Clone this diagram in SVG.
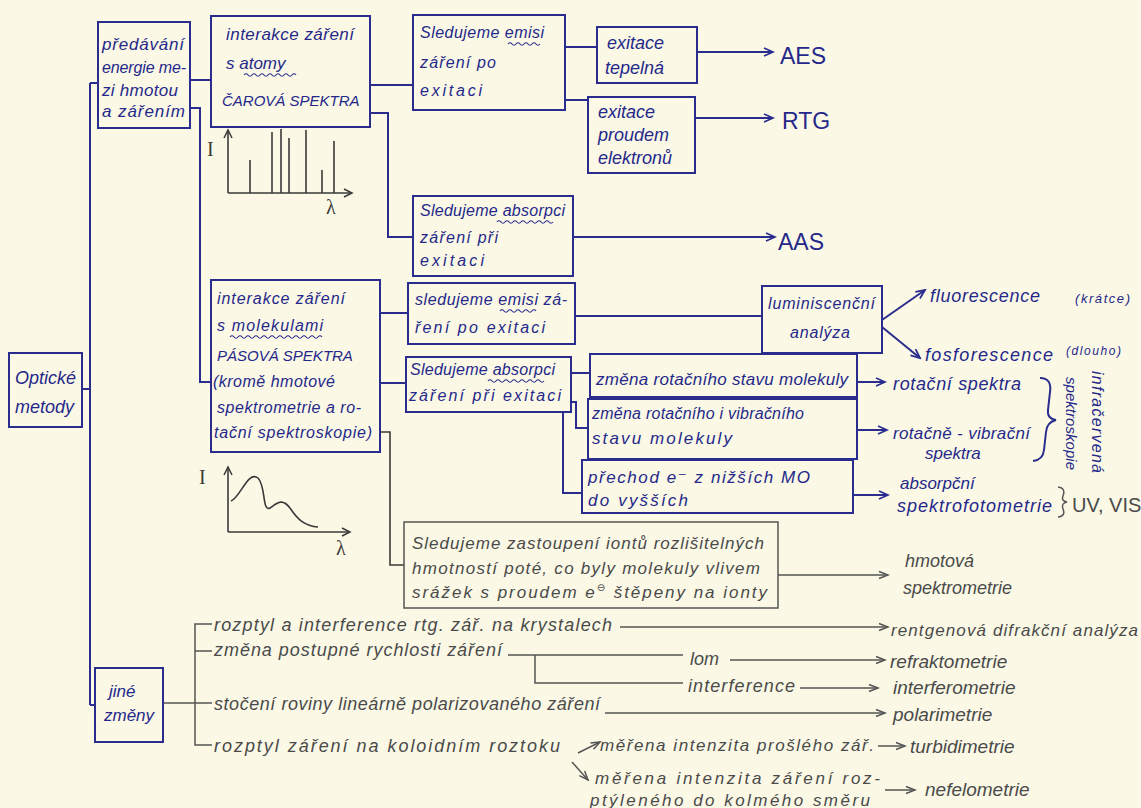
<svg xmlns="http://www.w3.org/2000/svg" width="1141" height="808" viewBox="0 0 1141 808">
<defs>
<style>
.b{fill:none;stroke:#2b2d8e;stroke-width:2}
.g{fill:none;stroke:#555;stroke-width:1.5}
.k{fill:none;stroke:#3a3a3a;stroke-width:1.6}
.w{fill:none;stroke:#2b2d8e;stroke-width:1.2}
.tb{font-family:"Liberation Sans","DejaVu Sans",sans-serif;fill:#25288a}
.tg{font-family:"Liberation Sans","DejaVu Sans",sans-serif;fill:#4a4a4a}
.ts{font-family:"Liberation Serif","DejaVu Serif",serif;fill:#3a3a3a}
</style>
<marker id="ab" markerWidth="12" markerHeight="12" refX="10" refY="5" orient="auto" markerUnits="userSpaceOnUse"><path d="M1,1 L10,5 L1,9" fill="none" stroke="#2b2d8e" stroke-width="1.8"/></marker>
<marker id="ag" markerWidth="12" markerHeight="12" refX="10" refY="5" orient="auto" markerUnits="userSpaceOnUse"><path d="M1,1.5 L10,5 L1,8.5" fill="none" stroke="#555" stroke-width="1.5"/></marker>
<marker id="ak" markerWidth="12" markerHeight="12" refX="9" refY="5" orient="auto" markerUnits="userSpaceOnUse"><path d="M1,1 L9,5 L1,9" fill="none" stroke="#3a3a3a" stroke-width="1.5"/></marker>
</defs>
<rect x="0" y="0" width="1141" height="808" fill="#fbf9e6"/>

<g id="connectors">
<path class="b" d="M82,389 H90"/>
<path class="b" d="M90,83 V705"/>
<path class="b" d="M90,83 H98"/>
<path class="b" d="M90,705 H95"/>
<path class="b" d="M190,80 H211"/>
<path class="b" d="M190,108 H200 V382 H211"/>
<path class="b" d="M370,85 H413"/>
<path class="b" d="M370,113 H388 V237 H413"/>
<path class="b" d="M565,47 H597"/>
<path class="b" d="M565,100 H588"/>
<path class="b" d="M697,52 H773" marker-end="url(#ab)"/>
<path class="b" d="M695,118 H773" marker-end="url(#ab)"/>
<path class="b" d="M573,237 H775" marker-end="url(#ab)"/>
<path class="b" d="M380,313 H408"/>
<path class="b" d="M380,383 H406"/>
<path class="k" d="M380,432 H390 V565 H404"/>
<path class="b" d="M575,316 H762"/>
<path class="b" d="M882,320 L925,290" marker-end="url(#ab)"/>
<path class="b" d="M882,327 L920,358" marker-end="url(#ab)"/>
<path class="b" d="M571,373 H590"/>
<path class="b" d="M571,402 H576 V428 H588"/>
<path class="b" d="M563,412 V493 H582"/>
<path class="b" d="M857,382 H885" marker-end="url(#ab)"/>
<path class="b" d="M857,430 H887" marker-end="url(#ab)"/>
<path class="b" d="M853,495 H888" marker-end="url(#ab)"/>
<path class="g" d="M778,575 H888" marker-end="url(#ag)"/>
<path class="g" d="M163,703 H212"/>
<path class="g" d="M212,624 H195 V745 H212"/>
<path class="g" d="M195,651 H212"/>
<path class="g" d="M620,627 H888" marker-end="url(#ag)"/>
<path class="g" d="M508,655 H683"/>
<path class="g" d="M535,655 V683 H683"/>
<path class="g" d="M730,660 H885" marker-end="url(#ag)"/>
<path class="g" d="M800,688 H878" marker-end="url(#ag)"/>
<path class="g" d="M605,713 H885" marker-end="url(#ag)"/>
<path class="g" d="M578,753 L600,742" marker-end="url(#ag)"/>
<path class="g" d="M572,762 L588,780" marker-end="url(#ag)"/>
<path class="g" d="M878,746 H905" marker-end="url(#ag)"/>
<path class="g" d="M885,790 H915" marker-end="url(#ag)"/>
</g>

<g id="n-opticke">
<rect class="b" x="9" y="353" width="73" height="74"/>
<text class="tb" font-style="italic" font-size="18" x="15" y="384">Optické</text>
<text class="tb" font-style="italic" font-size="18" x="15" y="413">metody</text>
</g>

<g id="n-predavani">
<rect class="b" x="98" y="22" width="92" height="106"/>
<text class="tb" font-style="italic" font-size="17" x="102" y="50" textLength="82" lengthAdjust="spacing">předávání</text>
<text class="tb" font-style="italic" font-size="16" x="102" y="73" textLength="84" lengthAdjust="spacing">energie me-</text>
<text class="tb" font-style="italic" font-size="17" x="102" y="96" textLength="76" lengthAdjust="spacing">zi hmotou</text>
<text class="tb" font-style="italic" font-size="17" x="102" y="117" textLength="83" lengthAdjust="spacing">a zářením</text>
</g>

<g id="n-atomy">
<rect class="b" x="211" y="16" width="159" height="111"/>
<text class="tb" font-style="italic" font-size="17" x="226" y="40" textLength="128" lengthAdjust="spacing">interakce záření</text>
<text class="tb" font-style="italic" font-size="17" x="226" y="69">s atomy</text>
<path class="w" d="M244,75 q2,-2.5 4,0 t4,0 t4,0 t4,0 t4,0 t4,0 t4,0 t4,0 t4,0 t4,0 t4,0 t4,0 t4,0"/>
<text class="tb" font-style="italic" font-size="15" x="222" y="106">ČAROVÁ SPEKTRA</text>
</g>

<g id="chart-lines">
<path class="k" d="M228,193 V130" marker-end="url(#ak)"/>
<path class="k" d="M228,193 H352" marker-end="url(#ak)"/>
<path class="k" d="M250,193 V160 M272,193 V132 M281,193 V129 M289,193 V138 M306,193 V130 M322,193 V170 M334,193 V141"/>
<text class="ts" font-size="20" x="207" y="156">I</text>
<text class="ts" font-size="20" x="326" y="214">λ</text>
</g>

<g id="n-emise1">
<rect class="b" x="413" y="15" width="152" height="95"/>
<text class="tb" font-style="italic" font-size="16" x="420" y="38" textLength="124" lengthAdjust="spacing">Sledujeme emisi</text>
<path class="w" d="M508,44 q2,-2.5 4,0 t4,0 t4,0 t4,0 t4,0 t4,0 t4,0 t4,0"/>
<text class="tb" font-style="italic" font-size="16" x="420" y="68" textLength="76" lengthAdjust="spacing">záření po</text>
<text class="tb" font-style="italic" font-size="16" x="420" y="96" textLength="62" lengthAdjust="spacing">exitaci</text>
</g>

<g id="n-tepelna">
<rect class="b" x="597" y="27" width="100" height="56"/>
<text class="tb" font-style="italic" font-size="18" x="607" y="49">exitace</text>
<text class="tb" font-style="italic" font-size="18" x="605" y="74">tepelná</text>
</g>

<g id="n-proudem">
<rect class="b" x="588" y="97" width="107" height="76"/>
<text class="tb" font-style="italic" font-size="18" x="598" y="118">exitace</text>
<text class="tb" font-style="italic" font-size="18" x="598" y="141">proudem</text>
<text class="tb" font-style="italic" font-size="18" x="598" y="164">elektronů</text>
</g>

<g id="n-aes"><text class="tb" font-size="23" x="780" y="64">AES</text></g>
<g id="n-rtg"><text class="tb" font-size="23" x="782" y="129">RTG</text></g>
<g id="n-aas"><text class="tb" font-size="23" x="778" y="250">AAS</text></g>

<g id="n-absorpce1">
<rect class="b" x="413" y="196" width="160" height="80"/>
<text class="tb" font-style="italic" font-size="16" x="420" y="216" textLength="145" lengthAdjust="spacing">Sledujeme absorpci</text>
<path class="w" d="M497,222 q2,-2.5 4,0 t4,0 t4,0 t4,0 t4,0 t4,0 t4,0 t4,0 t4,0 t4,0 t4,0 t4,0 t4,0 t4,0"/>
<text class="tb" font-style="italic" font-size="16" x="420" y="243" textLength="78" lengthAdjust="spacing">záření při</text>
<text class="tb" font-style="italic" font-size="16" x="420" y="266" textLength="64" lengthAdjust="spacing">exitaci</text>
</g>

<g id="n-molekuly">
<rect class="b" x="211" y="280" width="169" height="172"/>
<text class="tb" font-style="italic" font-size="16" x="217" y="304" textLength="128" lengthAdjust="spacing">interakce záření</text>
<text class="tb" font-style="italic" font-size="16" x="217" y="331" textLength="106" lengthAdjust="spacing">s molekulami</text>
<path class="w" d="M230,337 q2,-2.5 4,0 t4,0 t4,0 t4,0 t4,0 t4,0 t4,0 t4,0 t4,0 t4,0 t4,0 t4,0 t4,0 t4,0 t4,0 t4,0 t4,0 t4,0 t4,0 t4,0 t4,0 t4,0 t4,0"/>
<text class="tb" font-style="italic" font-size="15" x="217" y="361">PÁSOVÁ SPEKTRA</text>
<text class="tb" font-style="italic" font-size="16" x="213" y="387" textLength="122" lengthAdjust="spacing">(kromě hmotové</text>
<text class="tb" font-style="italic" font-size="16" x="217" y="413" textLength="144" lengthAdjust="spacing">spektrometrie a ro-</text>
<text class="tb" font-style="italic" font-size="16" x="214" y="438" textLength="158" lengthAdjust="spacing">tační spektroskopie)</text>
</g>

<g id="chart-bands">
<path class="k" d="M228,532 V467" marker-end="url(#ak)"/>
<path class="k" d="M228,532 H350" marker-end="url(#ak)"/>
<path class="k" d="M231,501 C240,498 248,470 258,478 C266,486 262,512 270,508 C276,504 282,497 290,508 C298,520 305,526 318,527"/>
<text class="ts" font-size="20" x="199" y="484">I</text>
<text class="ts" font-size="20" x="336" y="555">λ</text>
</g>

<g id="n-emise2">
<rect class="b" x="408" y="283" width="167" height="61"/>
<text class="tb" font-style="italic" font-size="16" x="415" y="305" textLength="152" lengthAdjust="spacing">sledujeme emisi zá-</text>
<path class="w" d="M500,311 q2,-2.5 4,0 t4,0 t4,0 t4,0 t4,0 t4,0 t4,0 t4,0 t4,0"/>
<text class="tb" font-style="italic" font-size="16" x="415" y="333" textLength="130" lengthAdjust="spacing">ření po exitaci</text>
</g>

<g id="n-luminiscence">
<rect class="b" x="762" y="286" width="120" height="67"/>
<text class="tb" font-style="italic" font-size="16" x="768" y="309" textLength="107" lengthAdjust="spacing">luminiscenční</text>
<text class="tb" font-style="italic" font-size="16" x="790" y="338" textLength="60" lengthAdjust="spacing">analýza</text>
</g>

<g id="n-fluor">
<text class="tb" font-style="italic" font-size="18" x="930" y="302" textLength="110" lengthAdjust="spacing">fluorescence</text>
<text class="tb" font-style="italic" font-size="13" x="1075" y="303" textLength="55" lengthAdjust="spacing">(krátce)</text>
</g>
<g id="n-fosfor">
<text class="tb" font-style="italic" font-size="18" x="925" y="361" textLength="128" lengthAdjust="spacing">fosforescence</text>
<text class="tb" font-style="italic" font-size="12" x="1066" y="355" textLength="55" lengthAdjust="spacing">(dlouho)</text>
</g>

<g id="n-absorpce2">
<rect class="b" x="406" y="357" width="165" height="55"/>
<text class="tb" font-style="italic" font-size="16" x="410" y="375" textLength="145" lengthAdjust="spacing">Sledujeme absorpci</text>
<path class="w" d="M488,381 q2,-2.5 4,0 t4,0 t4,0 t4,0 t4,0 t4,0 t4,0 t4,0 t4,0 t4,0 t4,0 t4,0 t4,0 t4,0"/>
<text class="tb" font-style="italic" font-size="16" x="409" y="401" textLength="152" lengthAdjust="spacing">záření při exitaci</text>
</g>

<g id="n-rot">
<rect class="b" x="590" y="354" width="267" height="43"/>
<text class="tb" font-style="italic" font-size="17" x="596" y="385" textLength="252" lengthAdjust="spacing">změna rotačního stavu molekuly</text>
</g>
<g id="n-rotvib">
<rect class="b" x="588" y="399" width="269" height="60"/>
<text class="tb" font-style="italic" font-size="16" x="592" y="419" textLength="212" lengthAdjust="spacing">změna rotačního i vibračního</text>
<text class="tb" font-style="italic" font-size="17" x="592" y="444" textLength="140" lengthAdjust="spacing">stavu molekuly</text>
</g>
<g id="n-prechod">
<rect class="b" x="582" y="460" width="271" height="53"/>
<text class="tb" font-style="italic" font-size="17" x="588" y="483" textLength="222" lengthAdjust="spacing">přechod e⁻ z nižších MO</text>
<text class="tb" font-style="italic" font-size="17" x="588" y="506" textLength="100" lengthAdjust="spacing">do vyšších</text>
</g>

<g id="n-rotspektra"><text class="tb" font-style="italic" font-size="18" x="893" y="390" textLength="128" lengthAdjust="spacing">rotační spektra</text></g>
<g id="n-rotvibspektra">
<text class="tb" font-style="italic" font-size="17" x="893" y="439" textLength="137" lengthAdjust="spacing">rotačně - vibrační</text>
<text class="tb" font-style="italic" font-size="17" x="925" y="459">spektra</text>
</g>
<g id="n-spektrofoto">
<text class="tb" font-style="italic" font-size="17" x="900" y="489">absorpční</text>
<text class="tb" font-style="italic" font-size="18" x="897" y="512" textLength="155" lengthAdjust="spacing">spektrofotometrie</text>
</g>

<g id="n-infra">
<path class="b" d="M1040,378 Q1052,378 1050,392 L1048,410 Q1047,419 1056,420 Q1047,422 1046,432 L1044,450 Q1043,460 1033,461"/>
<text class="tb" font-style="italic" font-size="16" transform="translate(1092,371) rotate(90)" textLength="102" lengthAdjust="spacing">infračervená</text>
<text class="tb" font-style="italic" font-size="15" transform="translate(1066,377) rotate(90)" textLength="93" lengthAdjust="spacing">spektroskopie</text>
</g>

<g id="n-uvvis">
<path class="g" d="M1058,487 Q1066,488 1063,496 Q1061,501 1067,502 Q1061,503 1063,509 Q1066,516 1058,517"/>
<text class="tg" font-size="20" x="1072" y="512">UV, VIS</text>
</g>

<g id="n-hmot-box">
<rect class="g" x="404" y="522" width="374" height="86"/>
<text class="tg" font-style="italic" font-size="17" x="412" y="549" textLength="352" lengthAdjust="spacing">Sledujeme zastoupení iontů rozlišitelných</text>
<text class="tg" font-style="italic" font-size="17" x="412" y="574" textLength="348" lengthAdjust="spacing">hmotností poté, co byly molekuly vlivem</text>
<text class="tg" font-style="italic" font-size="17" x="412" y="598" textLength="355" lengthAdjust="spacing">srážek s proudem e<tspan dy="-7" font-size="10">⊖</tspan><tspan dy="7"> štěpeny na ionty</tspan></text>
</g>
<g id="n-hmot-spektro">
<text class="tg" font-style="italic" font-size="18" x="905" y="567">hmotová</text>
<text class="tg" font-style="italic" font-size="18" x="903" y="594">spektrometrie</text>
</g>

<g id="n-jine">
<rect class="b" x="95" y="668" width="68" height="74"/>
<text class="tb" font-style="italic" font-size="17" x="109" y="697">jiné</text>
<text class="tb" font-style="italic" font-size="17" x="104" y="721">změny</text>
</g>

<g id="n-bottom-left">
<text class="tg" font-style="italic" font-size="18" x="214" y="631" textLength="398" lengthAdjust="spacing">rozptyl a interference rtg. zář. na krystalech</text>
<text class="tg" font-style="italic" font-size="18" x="214" y="656" textLength="288" lengthAdjust="spacing">změna postupné rychlosti záření</text>
<text class="tg" font-style="italic" font-size="18" x="214" y="710" textLength="386" lengthAdjust="spacing">stočení roviny lineárně polarizovaného záření</text>
<text class="tg" font-style="italic" font-size="18" x="214" y="752" textLength="346" lengthAdjust="spacing">rozptyl záření na koloidním roztoku</text>
</g>
<g id="n-lom"><text class="tg" font-style="italic" font-size="18" x="690" y="665">lom</text></g>
<g id="n-interference"><text class="tg" font-style="italic" font-size="18" x="688" y="692" textLength="107" lengthAdjust="spacing">interference</text></g>
<g id="n-mereni">
<text class="tg" font-style="italic" font-size="17" x="600" y="751" textLength="274" lengthAdjust="spacing">měřena intenzita prošlého zář.</text>
<text class="tg" font-style="italic" font-size="17" x="595" y="784" textLength="285" lengthAdjust="spacing">měřena intenzita záření roz-</text>
<text class="tg" font-style="italic" font-size="17" x="590" y="806" textLength="280" lengthAdjust="spacing">ptýleného do kolmého směru</text>
</g>
<g id="n-results">
<text class="tg" font-style="italic" font-size="17" x="891" y="636" textLength="247" lengthAdjust="spacing">rentgenová difrakční analýza</text>
<text class="tg" font-style="italic" font-size="19" x="890" y="668">refraktometrie</text>
<text class="tg" font-style="italic" font-size="19" x="893" y="694">interferometrie</text>
<text class="tg" font-style="italic" font-size="19" x="893" y="721">polarimetrie</text>
<text class="tg" font-style="italic" font-size="19" x="910" y="753">turbidimetrie</text>
<text class="tg" font-style="italic" font-size="19" x="925" y="796">nefelometrie</text>
</g>
</svg>
